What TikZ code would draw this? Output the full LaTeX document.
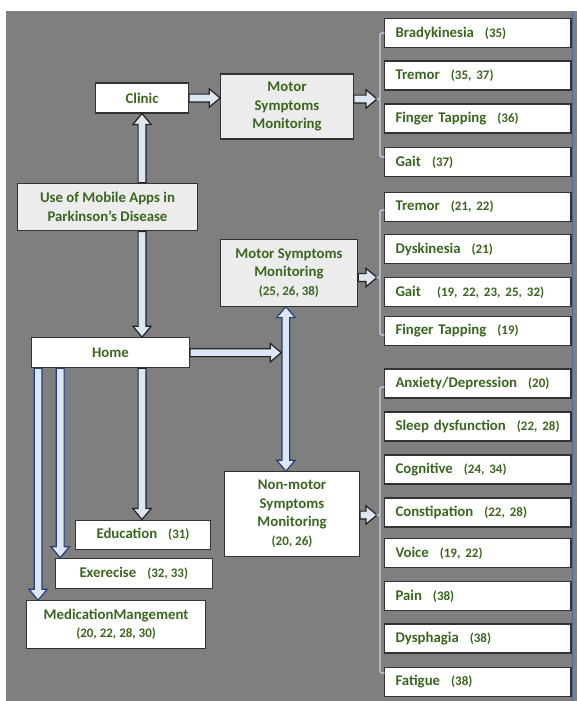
\documentclass[tikz,border=0pt]{standalone}
\usepackage{fontspec}
\setmainfont{Carlito}
\usetikzlibrary{calc}

\definecolor{bggray}{HTML}{7F7F7F}
\definecolor{txtgreen}{HTML}{3A6620}
\definecolor{lightbox}{HTML}{ECECEC}
\definecolor{boxedge}{HTML}{333333}
\definecolor{arrowfill}{HTML}{DCE6F4}
\definecolor{arrowedge}{HTML}{222222}
\definecolor{navyedge}{HTML}{24407A}
\definecolor{bracecol}{HTML}{C8D5E8}
\definecolor{edgeblue}{HTML}{4A6AA8}

\newcommand\namesize{\fontsize{14.8}{18.5}\selectfont}
\newcommand\refsize{\fontsize{13}{16}\selectfont}
\newcommand\symp[2]{\mbox{#1\hspace{11pt}{\refsize(#2)}}}

% block arrow from #2 to #3
\newcommand\fatarrow[3][arrowedge]{%
    \path (#2) coordinate (fa-s) (#3) coordinate (fa-e);
    \draw[draw=#1, fill=arrowfill, line width=1.2pt, line join=miter]
        let \p1=($(fa-e)-(fa-s)$), \n1={atan2(\y1,\x1)}, \n2={veclen(\x1,\y1)} in
        [shift={(fa-s)}, rotate=\n1]
        (0,-3.9) -- (\n2-11,-3.9) -- (\n2-11,-9.2) -- (\n2,0) -- (\n2-11,9.2) -- (\n2-11,3.9) -- (0,3.9) -- cycle;}
\newcommand\fatdarrow[3][arrowedge]{%
    \path (#2) coordinate (fa-s) (#3) coordinate (fa-e);
    \draw[draw=#1, fill=arrowfill, line width=1.2pt, line join=miter]
        let \p1=($(fa-e)-(fa-s)$), \n1={atan2(\y1,\x1)}, \n2={veclen(\x1,\y1)} in
        [shift={(fa-s)}, rotate=\n1]
        (11,-3.9) -- (\n2-11,-3.9) -- (\n2-11,-9.2) -- (\n2,0) -- (\n2-11,9.2) -- (\n2-11,3.9)
        -- (11,3.9) -- (11,9.2) -- (0,0) -- (11,-9.2) -- cycle;}
% thin brace: top y, tip y, bottom y
\newcommand\bracket[3]{%
    \draw[bracebar] (384.5,#1) .. controls (380,#1) .. (380,#1+5) -- (380,#2-4)
        .. controls (380,#2) .. (376.5,#2) .. controls (380,#2) .. (380,#2+4)
        -- (380,#3-5) .. controls (380,#3) .. (384.5,#3);}

\tikzset{
    box/.style={draw=boxedge, line width=1.1pt, fill=white, text=txtgreen,
        font=\namesize\bfseries, align=center, inner sep=0pt},
    greybox/.style={box, fill=lightbox},
    item/.style={box, align=left, text width=164.5pt, inner xsep=11pt,
        minimum height=29pt},
    bracebar/.style={draw=bracecol, line width=1.3pt}
}

\begin{document}
\begin{tikzpicture}[x=1pt, y=-1pt]
    \useasboundingbox (0,0) rectangle (577,701);
    \fill[white] (0,0) rectangle (577,701);
    \fill[bggray] (6,11) rectangle (577,701);

    %left column and middle boxes
    \node[box, minimum width=92.7pt, minimum height=30pt] (Clinic) at (142,98) {Clinic};
    \node[greybox, minimum width=132.5pt, minimum height=65pt] (Motor1) at (287,106.5) {Motor\\Symptoms\\Monitoring};
    \node[greybox, minimum width=180.3pt, minimum height=47.7pt] (Use) at (107.5,207) {Use of Mobile Apps in\\Parkinson’s Disease};
    \node[box, minimum width=158.2pt, minimum height=30pt] (Home) at (110.4,352.7) {Home};
    \node[greybox, minimum width=137.7pt, minimum height=66.7pt] (Motor2) at (288.9,272.7) {Motor Symptoms\\Monitoring\\{\refsize(25, 26, 38)}};
    \node[box, minimum width=135pt, minimum height=84.3pt] (Nonmotor) at (292,513.9) {Non-motor\\Symptoms\\Monitoring\\{\refsize(20, 26)}};
    \node[box, minimum width=135.1pt, minimum height=29.3pt] (Education) at (143,534.7) {\symp{Education}{31}};
    \node[box, minimum width=157.1pt, minimum height=30pt] (Exercise) at (133.8,573.3) {\symp{Exerecise}{32, 33}};
    \node[box, minimum width=178.4pt, minimum height=47.6pt] (Medication) at (116.1,624.5) {MedicationMangement\\{\refsize(20, 22, 28, 30)}};

    %right column
    \node[item] (Brady) at (477.75,33) {\symp{Bradykinesia}{35}};
    \node[item] (TremorA) at (477.75,75.5) {\symp{Tremor}{35, 37}};
    \node[item] (FingerA) at (477.75,118.5) {\symp{Finger Tapping}{36}};
    \node[item] (GaitA) at (477.75,162) {\symp{Gait}{37}};

    \node[item] (TremorB) at (477.75,207) {\symp{Tremor}{21, 22}};
    \node[item] (Dysk) at (477.75,249) {\symp{Dyskinesia}{21}};
    \node[item] (GaitB) at (477.75,292) {\mbox{Gait\hspace{16pt}{\refsize(19, 22, 23, 25, 32)}}};
    \node[item] (FingerB) at (477.75,331) {\symp{Finger Tapping}{19}};

    \node[item] (Anxiety) at (477.75,383.5) {\symp{Anxiety/Depression}{20}};
    \node[item] (Sleep) at (477.75,426.5) {\symp{Sleep dysfunction}{22, 28}};
    \node[item] (Cognitive) at (477.75,469.5) {\symp{Cognitive}{24, 34}};
    \node[item] (Constipation) at (477.75,512.5) {\symp{Constipation}{22, 28}};
    \node[item] (Voice) at (477.75,553) {\symp{Voice}{19, 22}};
    \node[item] (Pain) at (477.75,596) {\symp{Pain}{38}};
    \node[item] (Dysphagia) at (477.75,638.5) {\symp{Dysphagia}{38}};
    \node[item] (Fatigue) at (477.75,682) {\symp{Fatigue}{38}};

    \coordinate (tip1) at (377,99);
    \coordinate (tip2) at (377,277.5);
    \coordinate (tip3) at (377,515);
    \coordinate (vtop) at ($(Motor2.south)+(-3,0)$);
    \coordinate (vbot) at (vtop |- Nonmotor.north);
    \coordinate (meet) at ($(vtop |- Home.east)+(-4.6,0)$);
    \coordinate (exTop) at ($(Exercise.north west)+(5.5,0)$);
    \coordinate (medTop) at ($(Medication.north west)+(11.7,0)$);

    %arrows
    \fatarrow{Clinic.east}{Clinic.east -| Motor1.west}
    \fatarrow{Motor1.east |- tip1}{tip1}
    \fatarrow{Use.north -| Clinic.south}{Clinic.south}
    \fatarrow{Use.south -| Clinic.south}{Home.north -| Clinic.south}
    \fatarrow{Home.east}{meet}
    \fatdarrow[navyedge]{vtop}{vbot}
    \fatarrow{Motor2.east |- tip2}{tip2}
    \fatarrow{Nonmotor.east |- tip3}{tip3}
    \fatarrow{Home.south -| Clinic.south}{Education.north -| Clinic.south}
    \fatarrow[navyedge]{Home.south -| exTop}{exTop}
    \fatarrow[navyedge]{Home.south -| medTop}{medTop}

    %braces
    \bracket{33}{99}{157}
    \bracket{210}{277.5}{335}
    \bracket{387}{515}{673}

    \draw[edgeblue, line width=0.8pt] (572.5,11) -- (572.5,701);
\end{tikzpicture}
\end{document}
